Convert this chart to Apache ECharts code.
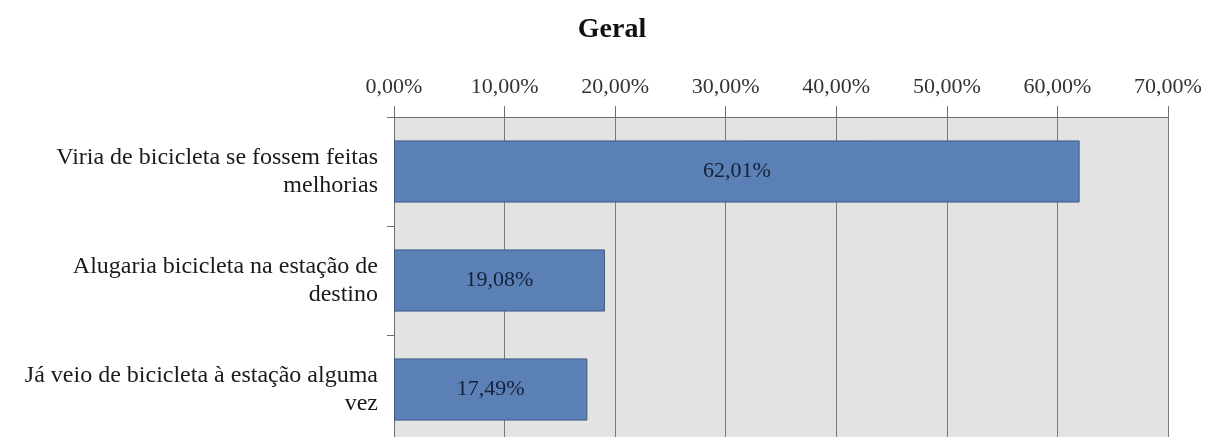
<!DOCTYPE html>
<html>
<head>
<meta charset="utf-8">
<script src="https://cdn.jsdelivr.net/npm/echarts@6/dist/echarts.min.js"></script>
<style>
  html, body { margin: 0; padding: 0; background: #fff; }
  #chart { width: 1205px; height: 437px; }
</style>
</head>
<body>
<div id="chart"></div>
<script>
// categories from top to bottom
var categories = [
  'Viria de bicicleta se fossem feitas\nmelhorias',
  'Alugaria bicicleta na estação de\ndestino',
  'Já veio de bicicleta à estação alguma\nvez'
];
var values = [62.01, 19.08, 17.49];
var axisTicks = [0, 10, 20, 30, 40, 50, 60, 70];

var serif = '"Liberation Serif", "DejaVu Serif", serif';

function pct(v) {
  return v.toFixed(2).replace('.', ',') + '%';
}

var chart = echarts.init(document.getElementById('chart'));

var option = {
  animation: false,
  title: {
    text: 'Geral',
    left: 607,
    textAlign: 'center',
    top: 11,
    textStyle: { fontFamily: serif, fontSize: 28, fontWeight: 'bold', color: '#111' }
  },
  // plot runs past the bottom edge of the picture (cropped in the original)
  grid: {
    left: 394,
    top: 117,
    width: 774,
    height: 327,
    outerBoundsMode: 'none',
    show: true,
    backgroundColor: '#e3e3e3',
    borderWidth: 0
  },
  xAxis: {
    type: 'value',
    position: 'top',
    min: axisTicks[0],
    max: axisTicks[axisTicks.length - 1],
    interval: 10,
    axisLine: { show: true, lineStyle: { color: '#6e6e6e', width: 1 } },
    axisTick: { show: true, length: 11, lineStyle: { color: '#6e6e6e' } },
    splitLine: { show: true, lineStyle: { color: '#7a7a7a', width: 1 } },
    axisLabel: {
      margin: 19,
      fontFamily: serif,
      fontSize: 22,
      color: '#333',
      formatter: function (v) { return pct(v); }
    }
  },
  yAxis: {
    type: 'category',
    inverse: true,
    data: categories,
    axisLine: { show: true, lineStyle: { color: '#6e6e6e' } },
    axisTick: { show: true, length: 7, lineStyle: { color: '#6e6e6e' } },
    axisLabel: {
      margin: 16,
      fontFamily: serif,
      fontSize: 24,
      lineHeight: 28,
      color: '#1a1a1a',
      align: 'right'
    }
  },
  series: [{
    type: 'bar',
    data: values,
    barWidth: '57%',
    itemStyle: { color: '#5b80b6', borderColor: '#3f5c86', borderWidth: 1 },
    label: {
      show: true,
      position: 'inside',
      fontFamily: serif,
      fontSize: 22,
      color: '#14213a',
      formatter: function (p) { return pct(p.value); }
    }
  }]
};

chart.setOption(option);
</script>
</body>
</html>
